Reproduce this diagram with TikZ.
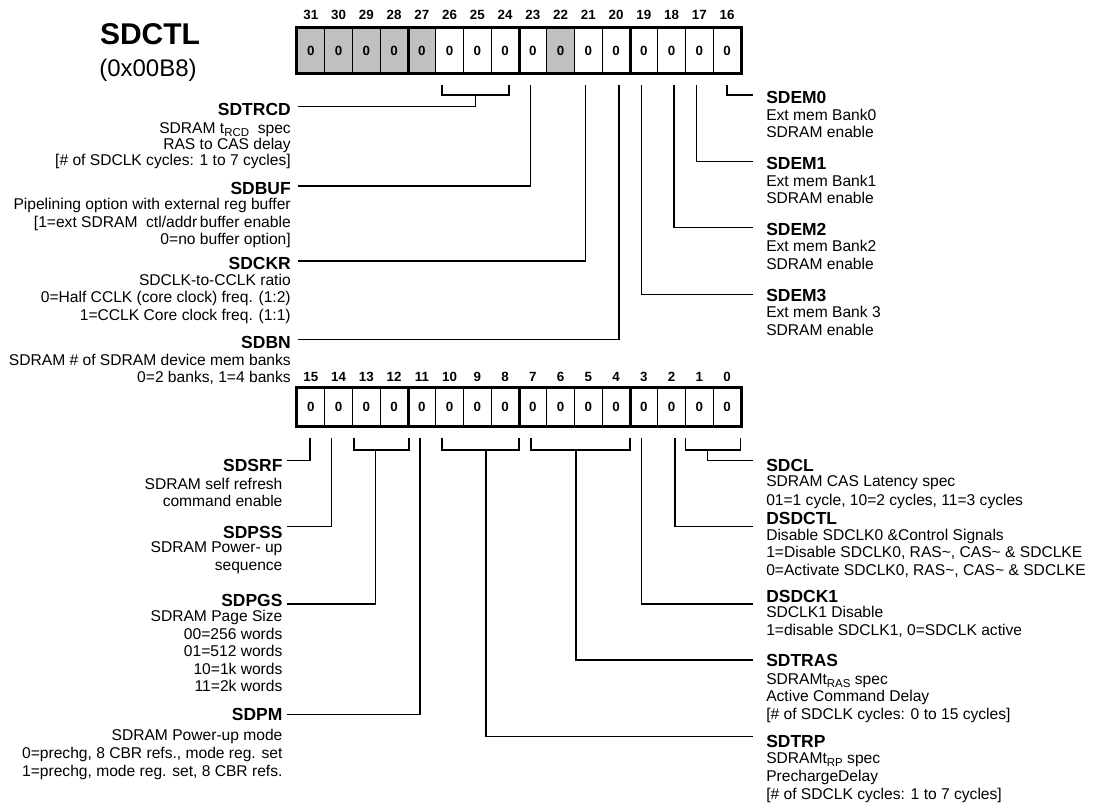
\documentclass[tikz,border=0pt]{standalone}
\usepackage{fontspec}
\setmainfont{Liberation Sans}
\definecolor{cellgrey}{RGB}{192,192,192}
\newcommand\rsub[1]{\raisebox{-2.4pt}{\fontsize{8.6}{8.6}\selectfont #1}}
% #1 name, #2 anchor, #3 x, #4 first baseline, #5 spacing, #6 lines
\newcommand\descblock[6]{%
  \foreach \t [count=\i] in {#6} {\node[descr,anchor=#2] (#1-\i) at (#3,{#4+(\i-1)*#5}) {\t};}%
}
\begin{document}
\begin{tikzpicture}[x=0.75pt,y=-0.75pt,
  cell/.style={draw=black, line width=0.6pt, minimum width=20.8125pt, minimum height=33.75pt,
    inner sep=0pt, font=\fontsize{10}{10}\selectfont\bfseries},
  bitno/.style={font=\fontsize{10}{10}\selectfont\bfseries, inner sep=0pt, anchor=base},
  regedge/.style={line width=2.4pt},
  conn/.style={line width=1.1pt},
  ttl/.style={font=\fontsize{13.1}{13.1}\selectfont\bfseries, inner ysep=0pt},
  ttlL/.style={ttl, anchor=base east, inner xsep=5.25pt},
  ttlLL/.style={ttl, anchor=base east, inner xsep=3pt},
  ttlR/.style={ttl, anchor=base west, inner xsep=9.75pt},
  descr/.style={font=\fontsize{11.7}{13}\selectfont, inner sep=0pt},
]
\fill[white] (0,0) rectangle (1097,803);
\useasboundingbox (0,0) rectangle (1097,803);

% title
\node[font=\fontsize{22.5}{22.5}\selectfont\bfseries, anchor=base, inner sep=0pt] (regname) at (150,45) {SDCTL};
\node[font=\fontsize{18}{18}\selectfont, anchor=base, inner sep=0pt] (regaddr) at (148,76) {(0x00B8)};

% upper register
\foreach \b/\f in {31/cellgrey,30/cellgrey,29/cellgrey,28/cellgrey,27/cellgrey,26/white,25/white,24/white,
                   23/white,22/cellgrey,21/white,20/white,19/white,18/white,17/white,16/white} {
  \node[cell,fill=\f] (c\b) at ({297+(31-\b+0.5)*27.75},50.5) {0};
  \node[bitno] (n\b) at ({297+(31-\b+0.5)*27.75},19.5) {\b};
}
\draw[regedge] (c31.north west) rectangle (c16.south east);
\foreach \b in {28,24,20} \draw[regedge] (c\b.north east) -- (c\b.south east);

% lower register
\foreach \b in {15,...,0} {
  \node[cell,fill=white,minimum height=28.5pt] (c\b) at ({297+(15-\b+0.5)*27.75},407) {0};
  \node[bitno] (n\b) at ({297+(15-\b+0.5)*27.75},381.5) {\b};
}
\draw[regedge] (c15.north west) rectangle (c0.south east);
\foreach \b in {12,8,4} \draw[regedge] (c\b.north east) -- (c\b.south east);

% ---------- upper labels ----------
\node[ttlL] (SDTRCD) at (298,115.3) {SDTRCD};
\descblock{SDTRCDd}{base east}{291}{133}{16.2}{{SDRAM t\rsub{RCD}\ \ spec},{RAS to CAS delay},{[\# of SDCLK cycles: 1 to 7 cycles]}}
\node[ttlL] (SDBUF) at (298,194.5) {SDBUF};
\descblock{SDBUFd}{base east}{291}{209.5}{17.5}{{Pipelining option with external reg buffer},{[1=ext SDRAM\ \ ctl/addr\,buffer enable},{0=no buffer option]}}
\node[ttlL] (SDCKR) at (298,269.6) {SDCKR};
\descblock{SDCKRd}{base east}{291}{285}{17.6}{{SDCLK-to-CCLK ratio},{0=Half CCLK (core clock) freq. (1:2)},{1=CCLK Core clock freq. (1:1)}}
\node[ttlL] (SDBN) at (298,348) {SDBN};
\descblock{SDBNd}{base east}{291}{365}{17}{{SDRAM \# of SDRAM device mem banks},{0=2 banks, 1=4 banks}}

\node[ttlR] (SDEM0) at (753,103) {SDEM0};
\descblock{SDEM0d}{base west}{766}{120}{17.5}{{Ext mem Bank0},{SDRAM enable}}
\node[ttlR] (SDEM1) at (753,169.5) {SDEM1};
\descblock{SDEM1d}{base west}{766}{186}{17.5}{{Ext mem Bank1},{SDRAM enable}}
\node[ttlR] (SDEM2) at (753,235.5) {SDEM2};
\descblock{SDEM2d}{base west}{766}{251.5}{17.5}{{Ext mem Bank2},{SDRAM enable}}
\node[ttlR] (SDEM3) at (753,301.5) {SDEM3};
\descblock{SDEM3d}{base west}{766}{317.5}{17.5}{{Ext mem Bank 3},{SDRAM enable}}

% upper connectors
\coordinate (s26) at (442,85);  \coordinate (s24) at (509,85); \coordinate (m25) at (475.7,95);
\coordinate (s23) at (530.7,85); \coordinate (s21) at (585.7,85); \coordinate (s20) at (619,85);
\coordinate (s19) at (641.7,85); \coordinate (s18) at (674,85); \coordinate (s17) at (696.7,85);
\coordinate (s16) at (727,85);
\draw[conn] (s26) |- (s24 |- m25) -- (s24);
\draw[conn] (m25) |- (SDTRCD.east |- 0,106.7);
\draw[conn] (s23) |- (SDBUF.east |- 0,186);
\draw[conn] (s21) |- (SDCKR.east |- 0,261);
\draw[conn] (s20) |- (SDBN.east |- 0,339.3);
\draw[conn] (s19) |- (SDEM3.west |- 0,294.3);
\draw[conn] (s18) |- (SDEM2.west |- 0,227.7);
\draw[conn] (s17) |- (SDEM1.west |- 0,161.7);
\draw[conn] (s16) |- (SDEM0.west |- 0,95);

% ---------- lower labels ----------
\node[ttlLL] (SDSRF) at (286.7,471.3) {SDSRF};
\descblock{SDSRFd}{base east}{282.7}{489}{17.7}{{SDRAM self refresh},{command enable}}
\node[ttlLL] (SDPSS) at (286.7,538.6) {SDPSS};
\descblock{SDPSSd}{base east}{282.7}{552.7}{18}{{SDRAM Power- up},{sequence}}
\node[ttlLL] (SDPGS) at (286.7,606.3) {SDPGS};
\descblock{SDPGSd}{base east}{282.7}{621.7}{17.5}{{SDRAM Page Size},{00=256 words},{01=512 words},{10=1k words},{11=2k words}}
\node[ttlLL] (SDPM) at (286.7,720.6) {SDPM};
\descblock{SDPMd}{base east}{282.7}{740.7}{17.7}{{SDRAM Power-up mode},{0=prechg, 8 CBR refs., mode reg. set},{1=prechg, mode reg. set, 8 CBR refs.}}

\node[ttlR] (SDCL) at (753,471.3) {SDCL};
\descblock{SDCLd}{base west}{766}{486.7}{18.3}{{SDRAM CAS Latency spec},{01=1 cycle, 10=2 cycles, 11=3 cycles}}
\node[ttlR] (DSDCTL) at (753,524.3) {DSDCTL};
\descblock{DSDCTLd}{base west}{766}{540}{17.5}{{Disable SDCLK0 \&Control Signals},{1=Disable SDCLK0, RAS\textasciitilde, CAS\textasciitilde\ \& SDCLKE},{0=Activate SDCLK0, RAS\textasciitilde, CAS\textasciitilde\ \& SDCLKE}}
\node[ttlR] (DSDCK1) at (753,602) {DSDCK1};
\descblock{DSDCK1d}{base west}{766}{617.5}{18}{{SDCLK1 Disable},{1=disable SDCLK1, 0=SDCLK active}}
\node[ttlR] (SDTRAS) at (753,666.3) {SDTRAS};
\descblock{SDTRASd}{base west}{766}{684}{17.5}{{SDRAMt\rsub{RAS} spec},{Active Command Delay},{[\# of SDCLK cycles: 0 to 15 cycles]}}
\node[ttlR] (SDTRP) at (753,747) {SDTRP};
\descblock{SDTRPd}{base west}{766}{763}{18}{{SDRAMt\rsub{RP} spec},{PrechargeDelay},{[\# of SDCLK cycles: 1 to 7 cycles]}}

% lower connectors
\coordinate (s15) at (310,438);   \coordinate (s14) at (331.7,438);
\coordinate (s13) at (354,438);   \coordinate (s12) at (409,438);  \coordinate (m12) at (375.7,450);
\coordinate (s11) at (420,438);
\coordinate (s10) at (442,438);   \coordinate (s8) at (519,438);   \coordinate (m9) at (486,450);
\coordinate (s7) at (530.8,438);  \coordinate (s4) at (630,438);   \coordinate (m5) at (576,450);
\coordinate (s3) at (641.7,438);  \coordinate (s2) at (675,438);
\coordinate (s1) at (685.7,438);  \coordinate (s0) at (740.5,438); \coordinate (m0) at (707.3,450);
\draw[conn] (s13) |- (s12 |- m12) -- (s12);
\draw[conn] (s10) |- (s8 |- m9) -- (s8);
\draw[conn] (s7) |- (s4 |- m5) -- (s4);
\draw[conn] (s1) |- (s0 |- m0) -- (s0);
\draw[conn] (s15) |- (SDSRF.east |- 0,460.7);
\draw[conn] (s14) |- (SDPSS.east |- 0,526.7);
\draw[conn] (m12) |- (SDPGS.east |- 0,604);
\draw[conn] (s11) |- (SDPM.east |- 0,714.3);
\draw[conn] (m0) |- (SDCL.west |- 0,460.7);
\draw[conn] (s2) |- (DSDCTL.west |- 0,526.7);
\draw[conn] (s3) |- (DSDCK1.west |- 0,604);
\draw[conn] (m5) |- (SDTRAS.west |- 0,660);
\draw[conn] (m9) |- (SDTRP.west |- 0,736.7);
\end{tikzpicture}
\end{document}
